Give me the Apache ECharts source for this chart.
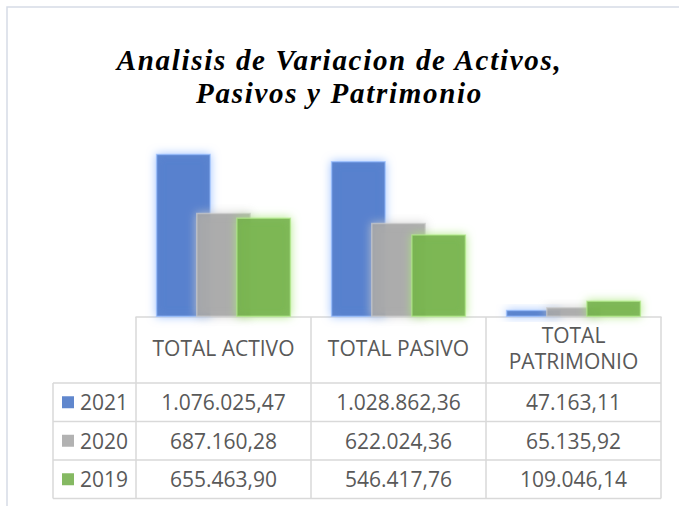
<!DOCTYPE html>
<html>
<head>
<meta charset="utf-8">
<script src="https://cdn.jsdelivr.net/npm/echarts@6/dist/echarts.min.js"></script>
<style>
html,body{margin:0;padding:0;background:#fff;}
#main{width:679px;height:506px;}
</style>
</head>
<body>
<div id="main"></div>
<script>
const categories = ['TOTAL ACTIVO', 'TOTAL PASIVO', 'TOTAL\nPATRIMONIO'];
const seriesNames = ['2021', '2020', '2019'];
const values2021 = [1076025.47, 1028862.36, 47163.11];
const values2020 = [687160.28, 622024.36, 65135.92];
const values2019 = [655463.90, 546417.76, 109046.14];

const seriesValues = [values2021, values2020, values2019];
const colors = ['#4472C4', '#A5A5A5', '#70AD47'];
const glows = ['rgba(150,190,255,0.75)', 'rgba(205,205,205,0.75)', 'rgba(180,236,140,0.75)'];
const shadows = ['#8fb8ff', '#c8c8c8', '#a9e67a'];

const GRID_L = 136, GRID_R = 661, AXIS_Y = 317;
const HEADER_B = 383, ROW_H = 38.5, KEY_L = 53;
const TABLE_B = HEADER_B + ROW_H * 3;
const LINE = '#d9d9d9';
const TXT = '#595959';
const FONT = '"Open Sans", sans-serif';
const FS = 21;

function fmt(v) {
  const parts = v.toFixed(2).split('.');
  return parts[0].replace(/\B(?=(\d{3})+(?!\d))/g, '.') + ',' + parts[1];
}

const chart = echarts.init(document.getElementById('main'), null, {renderer: 'svg'});

const graphics = [];
graphics.push({
  type: 'rect', silent: true,
  shape: {x: 7, y: 7, width: 720, height: 560},
  style: {fill: 'none', stroke: '#d6dce6', lineWidth: 1.5}
});
for (let r = 0; r <= 3; r++) {
  const y = HEADER_B + ROW_H * r;
  graphics.push({
    type: 'line', silent: true,
    shape: {x1: KEY_L, y1: y, x2: GRID_R, y2: y},
    style: {stroke: LINE, lineWidth: 1.5}
  });
}
graphics.push({
  type: 'line', silent: true,
  shape: {x1: KEY_L, y1: HEADER_B, x2: KEY_L, y2: TABLE_B},
  style: {stroke: LINE, lineWidth: 1.5}
});
const colW = (GRID_R - GRID_L) / categories.length;
seriesValues.forEach((vals, r) => {
  const cy = HEADER_B + ROW_H * (r + 0.5);
  graphics.push({
    type: 'rect', silent: true,
    shape: {x: 62, y: cy - 6, width: 12, height: 12},
    style: {fill: colors[r], opacity: 0.85}
  });
  graphics.push({
    type: 'text', silent: true,
    x: 80, y: cy,
    style: {
      text: seriesNames[r], fill: TXT, font: FS + 'px ' + FONT,
      align: 'left', verticalAlign: 'middle'
    }
  });
  vals.forEach((v, c) => {
    graphics.push({
      type: 'text', silent: true,
      x: GRID_L + colW * (c + 0.5),
      y: cy,
      style: {
        text: fmt(v), fill: TXT, font: FS + 'px ' + FONT,
        align: 'center', verticalAlign: 'middle'
      }
    });
  });
});

const option = {
  animation: false,
  backgroundColor: '#fff',
  title: {
    text: 'Analisis de Variacion de Activos,\nPasivos y Patrimonio',
    left: 'center',
    top: 38,
    textStyle: {
      fontFamily: '"Liberation Serif", serif',
      fontStyle: 'italic',
      fontWeight: 'bold',
      fontSize: 29,
      lineHeight: 33,
      color: '#000'
    }
  },
  grid: {
    left: GRID_L, right: 679 - GRID_R, top: 135, bottom: 506 - AXIS_Y,
    containLabel: false
  },
  xAxis: {
    type: 'category',
    data: categories,
    boundaryGap: true,
    axisLine: {show: true, lineStyle: {color: LINE, width: 1.5}},
    axisTick: {show: true, length: TABLE_B - AXIS_Y, lineStyle: {color: LINE, width: 1.5}},
    axisLabel: {
      interval: 0, margin: (HEADER_B - AXIS_Y) / 2 - 2,
      verticalAlign: 'middle', color: TXT, fontFamily: FONT, fontSize: FS,
      lineHeight: 26
    }
  },
  yAxis: {
    type: 'value', min: 0, max: 1200000,
    show: false,
    splitLine: {show: false}
  },
  series: seriesValues.map((vals, i) => ({
    name: seriesNames[i],
    type: 'bar',
    data: vals,
    barWidth: 55,
    barGap: '-27%',
    itemStyle: {
      color: colors[i],
      opacity: 0.85,
      borderColor: glows[i],
      borderWidth: 1.5,
      shadowBlur: 10,
      shadowColor: shadows[i]
    }
  })),
  graphic: graphics
};
chart.setOption(option);

function spaceTitle() {
  document.querySelectorAll('#main text, #main tspan').forEach(function (t) {
    if (/Analisis|Pasivos y/.test(t.textContent)) {
      t.style.letterSpacing = '1.7px';
    }
  });
}
spaceTitle();
setTimeout(spaceTitle, 0);
</script>
</body>
</html>
